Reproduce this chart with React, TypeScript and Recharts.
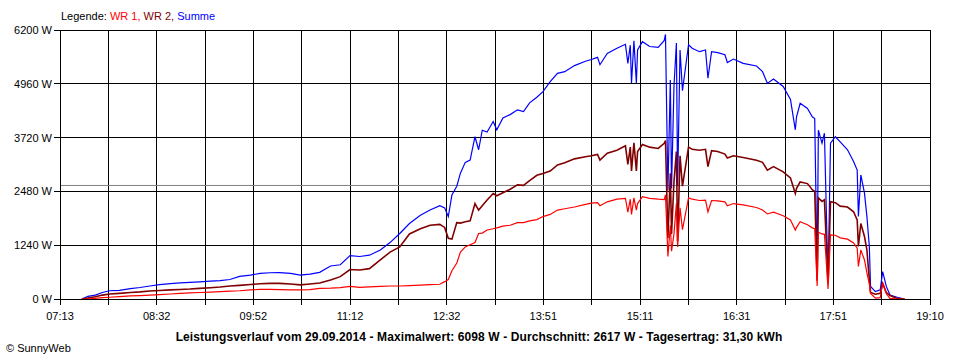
import { LineChart, Line, XAxis, YAxis, CartesianGrid, ReferenceLine } from "recharts";

// minutes since midnight
const times = [451, 456, 462, 468, 474, 482, 491, 499, 507, 515, 524, 532, 540, 548, 557, 565, 573, 581, 590, 598, 606, 614, 623, 631, 639, 647, 656, 664, 672, 680, 688, 697, 705, 713, 721, 730, 738, 746, 750, 753, 756, 760, 763, 767, 771, 775, 778, 781, 785, 790, 793, 798, 804, 810, 815, 820, 826, 831, 837, 843, 849, 857, 866, 871, 876, 878, 884, 892, 899, 901, 903, 904, 906, 908, 909, 913, 919, 926, 931, 932, 934, 936, 937, 939, 941, 942, 944, 946, 951, 954, 960, 965, 967, 970, 975, 981, 983, 988, 996, 1007, 1012, 1016, 1021, 1029, 1035, 1039, 1040, 1043, 1049, 1053, 1055, 1057, 1058, 1061, 1063, 1066, 1068, 1072, 1076, 1082, 1087, 1090, 1091, 1093, 1096, 1098, 1100, 1101, 1105, 1109, 1111, 1114, 1117, 1123, 1129];

const summe = [0, 60, 90, 150, 190, 200, 240, 265, 300, 330, 355, 370, 385, 395, 410, 425, 450, 520, 550, 590, 605, 610, 590, 550, 575, 615, 760, 790, 1000, 980, 1010, 1130, 1300, 1510, 1740, 1930, 2050, 2150, 2100, 1900, 2400, 2600, 2900, 3150, 3200, 3740, 3440, 3890, 3850, 4090, 3900, 4170, 4250, 4360, 4320, 4520, 4650, 4780, 5010, 5200, 5240, 5380, 5480, 5520, 5570, 5400, 5660, 5780, 5870, 5430, 5850, 4980, 5950, 4980, 5740, 5930, 5820, 5800, 5960, 6098, 2500, 5050, 2550, 4900, 5900, 2600, 5740, 4800, 5860, 5780, 5700, 5740, 5090, 5700, 5680, 5630, 5450, 5530, 5430, 5370, 5240, 4970, 5070, 4900, 4600, 3900, 4200, 4510, 4390, 4200, 4160, 520, 3890, 3590, 3820, 380, 3590, 3740, 3620, 3440, 3170, 2970, 1900, 2860, 2440, 1900, 1210, 290, 170, 210, 630, 290, 90, 40, 0];

const wr2 = [0, 20, 50, 90, 115, 130, 150, 165, 185, 195, 210, 220, 230, 245, 260, 275, 300, 315, 335, 350, 360, 360, 345, 325, 345, 370, 440, 515, 680, 670, 700, 900, 1080, 1200, 1500, 1620, 1700, 1720, 1650, 1400, 1380, 1760, 1750, 1780, 1800, 2200, 2050, 2150, 2280, 2430, 2380, 2450, 2530, 2630, 2620, 2730, 2850, 2890, 2950, 3090, 3140, 3230, 3280, 3300, 3330, 3200, 3360, 3430, 3530, 3100, 3500, 2950, 3600, 2950, 3400, 3560, 3500, 3470, 3590, 3650, 1400, 2900, 1500, 2700, 3400, 1330, 3300, 2600, 3500, 3450, 3430, 3450, 3050, 3420, 3400, 3340, 3250, 3300, 3260, 3200, 3150, 2970, 3050, 2930, 2790, 2430, 2550, 2700, 2660, 2520, 2480, 420, 2330, 2250, 2290, 360, 2240, 2220, 2140, 2120, 2010, 1820, 1210, 1740, 1440, 1130, 440, 150, 110, 130, 360, 150, 80, 10, 0];

const wr1 = [0, 0, 15, 30, 40, 55, 70, 80, 90, 100, 115, 130, 140, 150, 160, 170, 180, 190, 210, 220, 220, 215, 210, 210, 215, 245, 250, 260, 290, 270, 280, 290, 300, 300, 310, 320, 330, 340, 400, 450, 650, 830, 1080, 1200, 1250, 1300, 1510, 1520, 1590, 1620, 1640, 1680, 1700, 1760, 1760, 1800, 1830, 1900, 1950, 2050, 2080, 2120, 2180, 2210, 2220, 2150, 2240, 2300, 2320, 2000, 2300, 1950, 2330, 2050, 2200, 2360, 2320, 2300, 2290, 2400, 980, 1700, 1100, 1500, 2200, 1200, 2100, 1600, 2330, 2300, 2270, 2280, 2010, 2270, 2260, 2240, 2150, 2200, 2170, 2110, 2050, 1960, 2000, 1920, 1820, 1590, 1650, 1780, 1710, 1640, 1620, 300, 1540, 1500, 1490, 230, 1480, 1470, 1410, 1380, 1290, 1170, 750, 1130, 900, 600, 350, 130, 20, 30, 370, 120, 15, 0, 0];

const xTicks = [433, 472.83, 512.67, 552.5, 592.33, 632.17, 672, 711.83, 751.67, 791.5, 831.33, 871.17, 911, 950.83, 990.67, 1030.5, 1070.33, 1110.17, 1150];
const xTickLabels = ["07:13", "", "08:32", "", "09:52", "", "11:12", "", "12:32", "", "13:51", "", "15:11", "", "16:31", "", "17:51", "", "19:10"];
const yTicks = [0, 1240, 2480, 3720, 4960, 6200];
const average = 2617;

const data = times.map((t, i) => ({ t, summe: summe[i], wr2: wr2[i], wr1: wr1[i] }));

const font = '"Liberation Sans", Arial, sans-serif';

export default function App() {
  return (
    <div style={{ position: "fixed", left: 0, top: 0, width: 960, height: 360, background: "#fff", fontFamily: font }}>
      <style>{`.recharts-cartesian-grid line, .recharts-cartesian-axis-line, .recharts-cartesian-axis-tick-line { shape-rendering: crispEdges; }`}</style>
      <div style={{ position: "absolute", left: 61, top: 10, fontSize: 11, color: "#000", whiteSpace: "nowrap" }}>
        Legende: <span style={{ color: "#FF0000" }}>WR 1,</span> <span style={{ color: "#800000" }}>WR 2,</span>{" "}
        <span style={{ color: "#0000FF" }}>Summe</span>
      </div>
      <LineChart width={960} height={360} data={data} margin={{ top: 30, right: 30, left: 0, bottom: 37 }}>
        <CartesianGrid stroke="#000" strokeWidth={1} horizontalValues={yTicks} verticalValues={xTicks} />
        <XAxis
          type="number"
          dataKey="t"
          domain={[433, 1150]}
          ticks={xTicks}
          interval={0}
          height={24}
          tickSize={6}
          stroke="#000"
          tick={{ fill: "#000", fontSize: 11, fontFamily: font, dy: 5 }}
          tickFormatter={(_v: number, i: number) => xTickLabels[i]}
          allowDataOverflow
        />
        <YAxis
          type="number"
          domain={[0, 6200]}
          ticks={yTicks}
          interval={0}
          width={60}
          tickSize={6}
          stroke="#000"
          tick={{ fill: "#000", fontSize: 11, fontFamily: font }}
          tickFormatter={(v: number) => `${v} W`}
        />
        <ReferenceLine y={average} stroke="#808080" strokeWidth={1} />
        <Line type="linear" dataKey="summe" stroke="#0000FF" strokeWidth={1.2} dot={false} isAnimationActive={false} />
        <Line type="linear" dataKey="wr2" stroke="#800000" strokeWidth={1.6} dot={false} isAnimationActive={false} />
        <Line type="linear" dataKey="wr1" stroke="#FF0000" strokeWidth={1.2} dot={false} isAnimationActive={false} />
      </LineChart>
      <div style={{ position: "absolute", left: 0, width: 958, top: 330, textAlign: "center", fontSize: 12, fontWeight: "bold", color: "#000", letterSpacing: 0.1 }}>
        Leistungsverlauf vom 29.09.2014 - Maximalwert: 6098 W - Durchschnitt: 2617 W - Tagesertrag: 31,30 kWh
      </div>
      <div style={{ position: "absolute", left: 6, top: 342, fontSize: 11, color: "#000" }}>© SunnyWeb</div>
    </div>
  );
}
